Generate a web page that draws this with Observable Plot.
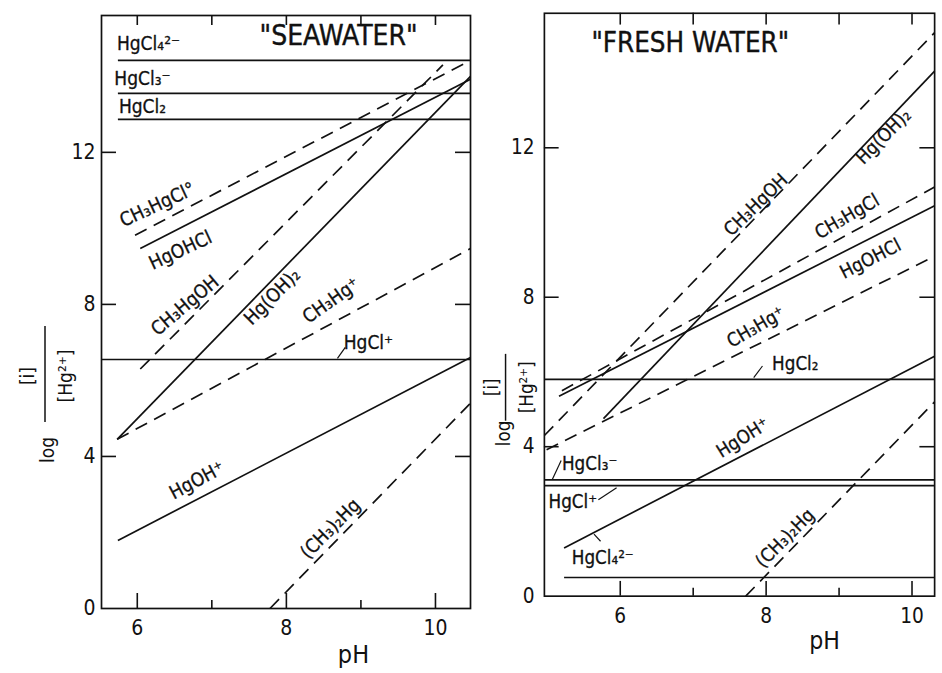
<!DOCTYPE html>
<html>
<head>
<meta charset="utf-8">
<script src="https://cdn.jsdelivr.net/npm/d3@7"></script>
<script src="https://cdn.jsdelivr.net/npm/@observablehq/plot@0.6"></script>
<style>
  html, body { margin: 0; padding: 0; background: #fff; width: 942px; height: 673px; overflow: hidden; }
  #sea { position: absolute; left: 0; top: 0; }
  #fresh { position: absolute; left: 480px; top: 0; }
  svg text { font-family: "DejaVu Sans Condensed", "Liberation Sans Narrow", "DejaVu Sans", sans-serif; }
</style>
</head>
<body>
<div id="sea"></div>
<div id="fresh"></div>
<script>
// ---- "SEAWATER": each species is a straight line between two (pH, log ratio) points
const seaSpecies  = ["HgCl4 2-", "HgCl3 -", "HgCl2", "HgCl+", "HgOH+", "Hg(OH)2", "HgOHCl", "CH3HgCl", "CH3HgOH", "CH3Hg+", "(CH3)2Hg"];
const seaDashed   = [false, false, false, false, false, false, false, true, true, true, true];
const seaPhStart  = [5.74, 5.74, 5.74, 5.52, 5.74, 5.73, 6.04, 5.97, 6.04, 5.73, 7.78];
const seaLogStart = [14.42, 13.55, 12.87, 6.55, 1.79, 4.45, 9.47, 9.82, 6.30, 4.45, 0.00];
const seaPhEnd    = [10.47, 10.47, 10.47, 10.47, 10.47, 10.47, 10.47, 10.47, 10.10, 10.47, 10.47];
const seaLogEnd   = [14.42, 13.55, 12.87, 6.55, 6.60, 14.00, 13.92, 14.42, 14.30, 9.47, 5.40];

// ---- "FRESH WATER"
const freshSpecies  = ["HgCl2", "HgCl3 -", "HgCl+", "HgCl4 2-", "HgOH+", "Hg(OH)2", "HgOHCl", "CH3HgCl", "CH3HgOH", "CH3Hg+", "(CH3)2Hg"];
const freshDashed   = [false, false, false, false, false, false, false, true, true, true, true];
const freshPhStart  = [4.96, 4.96, 4.96, 5.23, 5.23, 5.77, 5.16, 5.20, 4.96, 4.99, 7.72];
const freshLogStart = [5.80, 3.11, 2.96, 0.50, 1.29, 4.75, 5.35, 5.50, 4.30, 3.92, 0.00];
const freshPhEnd    = [10.31, 10.31, 10.31, 10.31, 10.31, 10.31, 10.31, 10.31, 10.31, 10.31, 10.31];
const freshLogEnd   = [5.80, 3.11, 2.96, 0.50, 6.42, 14.05, 10.45, 10.95, 15.08, 9.10, 5.20];

// ---- axis ticks
const yTickValues = [0, 4, 8, 12];
const xTickLabels = [6, 8, 10];
const xMinorTicks = [7, 9];
const xTopTicks = [6, 7, 8, 9, 10];

// ---- species labels (text, pH, log ratio at label centre, angle)
const seaLabelText  = ["HgCl₄²⁻", "HgCl₃⁻", "HgCl₂", "CH₃HgCl°", "HgOHCl", "CH₃HgOH", "Hg(OH)₂", "CH₃Hg⁺", "HgCl⁺", "HgOH⁺", "(CH₃)₂Hg"];
const seaLabelPh    = [6.15, 6.07, 6.07, 6.27, 6.58, 6.64, 7.81, 8.60, 9.10, 6.80, 8.59];
const seaLabelLog   = [14.85, 13.93, 13.20, 10.62, 9.42, 7.97, 8.20, 8.10, 7.00, 3.37, 2.10];
const seaLabelAngle = [0, 0, 0, -25, -25, -40, -45, -35, 0, -28, -45];

const freshLabelText  = ["CH₃HgOH", "Hg(OH)₂", "CH₃HgCl", "HgOHCl", "CH₃Hg⁺", "HgCl₂", "HgOH⁺", "HgCl₃⁻", "HgCl⁺", "HgCl₄²⁻", "(CH₃)₂Hg"];
const freshLabelPh    = [7.86, 9.61, 9.11, 9.43, 7.86, 8.40, 7.68, 5.58, 5.35, 5.76, 8.26];
const freshLabelLog   = [10.47, 12.30, 10.16, 9.03, 7.20, 6.20, 4.24, 3.55, 2.53, 1.03, 1.55];
const freshLabelAngle = [-44, -45, -30, -27, -30, 0, -32, 0, 0, 0, -45];

// ---- short leader strokes tying labels to their lines (pH, log ratio at both ends)
const seaLeaderPh0  = [8.685];
const seaLeaderLg0  = [6.58];
const seaLeaderPh1  = [8.79];
const seaLeaderLg1  = [6.87];
const freshLeaderPh0 = [7.83, 5.07, 5.70, 5.64];
const freshLeaderLg0 = [5.85, 3.13, 2.58, 1.66];
const freshLeaderPh1 = [7.95, 5.19, 5.95, 5.73];
const freshLeaderLg1 = [6.16, 3.63, 2.90, 1.47];

const ink = "#111";

function rowsOf(species, dashed, ph0, lg0, ph1, lg1) {
  return species.map((s, i) => ({species: s, dashed: dashed[i], ph0: ph0[i], lg0: lg0[i], ph1: ph1[i], lg1: lg1[i]}));
}
function labelsOf(text, ph, lg, angle) {
  return text.map((t, i) => ({text: t, ph: ph[i], lg: lg[i], angle: angle[i]}));
}
function leadersOf(ph0, lg0, ph1, lg1) {
  return ph0.map((p, i) => ({ph0: p, lg0: lg0[i], ph1: ph1[i], lg1: lg1[i]}));
}

function panel({width, height, margin, xDomain, rows, labels, leaders, title, titlePh, titleLog, pHPos, topTick}) {
  const [mt, mr, mb, ml] = margin;
  const fw = width - ml - mr, fh = height - mt - mb;
  return Plot.plot({
    width, height,
    marginTop: mt, marginRight: mr, marginBottom: mb, marginLeft: ml,
    x: {domain: xDomain},
    y: {domain: [0, 15.6]},
    style: {background: "white", color: ink, overflow: "visible"},
    marks: [
      Plot.frame({stroke: ink, strokeWidth: 1.7}),
      // inward ticks on all four sides
      Plot.tickY(yTickValues.slice(1), {y: d => d, stroke: ink, strokeWidth: 1.6, insetRight: fw - 15}),
      Plot.tickY(yTickValues.slice(1), {y: d => d, stroke: ink, strokeWidth: 1.6, insetLeft: fw - 15}),
      Plot.tickX(xTickLabels, {x: d => d, stroke: ink, strokeWidth: 1.6, insetTop: fh - 15}),
      Plot.tickX(xMinorTicks, {x: d => d, stroke: ink, strokeWidth: 1.6, insetTop: fh - 8}),
      Plot.tickX(xTopTicks, {x: d => d, stroke: ink, strokeWidth: 1.6, insetBottom: fh - topTick}),
      Plot.axisY({ticks: yTickValues, tickFormat: "d", tickSize: 0, tickPadding: ml > 80 ? 6 : 10, fontSize: 21, label: null}),
      Plot.axisX({ticks: xTickLabels, tickFormat: "d", tickSize: 0, tickPadding: 12, fontSize: 21, label: null}),
      Plot.text(["pH"], {x: [pHPos], frameAnchor: "bottom", dy: 54, fontSize: 25, fill: ink}),
      // species lines
      Plot.link(rows.filter(d => !d.dashed), {x1: "ph0", y1: "lg0", x2: "ph1", y2: "lg1", stroke: ink, strokeWidth: 1.7}),
      Plot.link(rows.filter(d => d.dashed), {x1: "ph0", y1: "lg0", x2: "ph1", y2: "lg1", stroke: ink, strokeWidth: 1.7, strokeDasharray: "13,8"}),
      Plot.link(leaders, {x1: "ph0", y1: "lg0", x2: "ph1", y2: "lg1", stroke: ink, strokeWidth: 1.2}),
      // labels
      Plot.text(labels, {x: "ph", y: "lg", text: "text", rotate: "angle", fontSize: 19, fill: ink, stroke: ink, strokeWidth: 0.3}),
      Plot.text([title], {x: [titlePh], y: [titleLog], fontSize: 28, fill: ink, stroke: ink, strokeWidth: 0.4})
    ]
  });
}

// y-axis title: log [i]/[Hg2+], set vertically with a fraction bar
function yTitle(svg, {logX, logY, barX, barY1, barY2, numX, denX, fracY}) {
  const g = d3.select(svg).append("g").attr("fill", ink).attr("font-size", 19);
  const rot = (sel, x, y) => sel.attr("transform", `translate(${x},${y}) rotate(-90)`)
    .attr("text-anchor", "middle").attr("dominant-baseline", "central");
  rot(g.append("text").text("log"), logX, logY);
  g.append("line").attr("x1", barX).attr("x2", barX).attr("y1", barY1).attr("y2", barY2)
    .attr("stroke", ink).attr("stroke-width", 1.5);
  rot(g.append("text").text("[i]"), numX, fracY);
  rot(g.append("text").text("[Hg²⁺]"), denX, fracY);
}

const sea = panel({
  width: 474, height: 673, margin: [15, 4, 65, 101],
  xDomain: [5.52, 10.47],
  rows: rowsOf(seaSpecies, seaDashed, seaPhStart, seaLogStart, seaPhEnd, seaLogEnd),
  labels: labelsOf(seaLabelText, seaLabelPh, seaLabelLog, seaLabelAngle),
  leaders: leadersOf(seaLeaderPh0, seaLeaderLg0, seaLeaderPh1, seaLeaderLg1),
  title: "\"SEAWATER\"", titlePh: 8.70, titleLog: 15.05, pHPos: 8.9, topTick: 10
});
yTitle(sea, {logX: 47, logY: 450, barX: 45, barY1: 326, barY2: 422, numX: 27, denX: 65, fracY: 376});
document.getElementById("sea").appendChild(sea);

const fresh = panel({
  width: 470, height: 673, margin: [13, 8, 67, 65],
  xDomain: [4.96, 10.31],
  rows: rowsOf(freshSpecies, freshDashed, freshPhStart, freshLogStart, freshPhEnd, freshLogEnd),
  labels: labelsOf(freshLabelText, freshLabelPh, freshLabelLog, freshLabelAngle),
  leaders: leadersOf(freshLeaderPh0, freshLeaderLg0, freshLeaderPh1, freshLeaderLg1),
  title: "\"FRESH WATER\"", titlePh: 6.96, titleLog: 14.8, pHPos: 8.8, topTick: 12
});
yTitle(fresh, {logX: 24, logY: 441, barX: 26, barY1: 360, barY2: 428, numX: 12, denX: 47, fracY: 394});
document.getElementById("fresh").appendChild(fresh);
</script>
</body>
</html>
